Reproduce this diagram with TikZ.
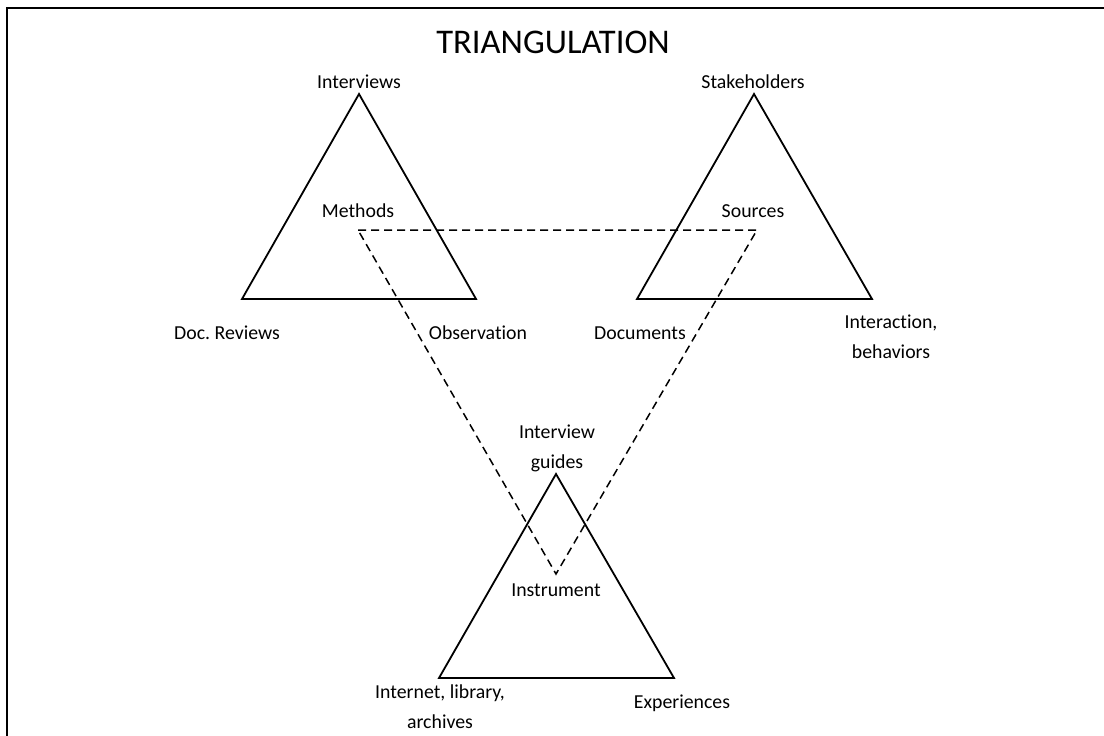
\documentclass[tikz,border=0pt]{standalone}
\usepackage{fontspec}
\setmainfont{Carlito}[Ligatures={NoCommon}]
\frenchspacing
\begin{document}
\begin{tikzpicture}[x=1pt,y=-1pt,
  lbl/.style={font=\fontsize{19.8}{29.5}\selectfont, anchor=base, inner sep=0pt, align=center},
  tri/.style={draw=black, line width=1.8pt, line join=miter},
  guide/.style={draw=black, line width=1.5pt, dash pattern=on 8pt off 5pt},
  frame/.style={draw=black, line width=2.8pt}]
\useasboundingbox (0,0) rectangle (1104,736);
\clip (0,0) rectangle (1104,736);
\fill[white] (0,0) rectangle (1104,736);

% outer frame, running off the right and bottom edges
\draw[frame] (7,8) rectangle (1130,760);

% triangle corners
\coordinate (m1) at (359,94);  \coordinate (m2) at (242,299); \coordinate (m3) at (476,299);
\coordinate (s1) at (754,94);  \coordinate (s2) at (637,299); \coordinate (s3) at (872,299);
\coordinate (i1) at (556,474); \coordinate (i2) at (439,678); \coordinate (i3) at (674,678);

% centres joined by the dashed triangle
\coordinate (cm) at (358,230);
\coordinate (cs) at (757,230);
\coordinate (ci) at (556,574);

\draw[tri] (m1) -- (m2) -- (m3) -- cycle;
\draw[tri] (s1) -- (s2) -- (s3) -- cycle;
\draw[tri] (i1) -- (i2) -- (i3) -- cycle;

\draw[guide] (cm) -- (cs) -- (ci) -- cycle;

% title
\node[lbl, font=\fontsize{34.6}{40}\selectfont] (title) at (553,53) {TRIANGULATION};

% methods triangle (multi-line labels are placed by their last baseline)
\node[lbl] (interviews) at (359,88) {Interviews};
\node[lbl] (methods) at (358,217) {Methods};
\node[lbl] (docrev) at (227,339) {Doc. Reviews};
\node[lbl] (observation) at (478,339) {Observation};

% sources triangle
\node[lbl] (stakeholders) at (753,88) {Stakeholders};
\node[lbl] (sources) at (753,217) {Sources};
\node[lbl] (documents) at (640,339) {Documents};
\node[lbl] (interaction) at (891,358) {Interaction,\\behaviors};

% instrument triangle
\node[lbl] (guides) at (557,468) {Interview\\guides};
\node[lbl] (instrument) at (556,596) {Instrument};
\node[lbl] (internet) at (440,728) {Internet, library,\\archives};
\node[lbl] (experiences) at (682,708) {Experiences};
\end{tikzpicture}
\end{document}
